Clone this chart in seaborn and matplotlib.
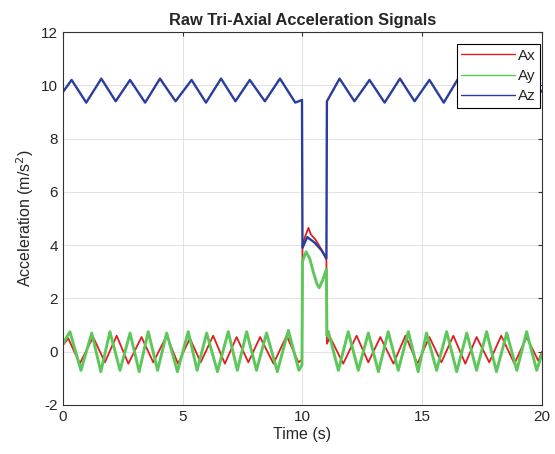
import numpy as np
import pandas as pd
import matplotlib
matplotlib.use("Agg")
import matplotlib.pyplot as plt
import seaborn as sns

# values (peaks / troughs / step points)
AX_T = [0, 0.22, 0.7, 1.26, 1.75, 2.24, 2.73, 3.28, 3.77, 4.33,
        4.8, 5.3, 5.75, 6.27, 6.76, 7.25, 7.74, 8.23, 8.79, 9.34,
        9.83, 9.98, 10.0, 10.1, 10.25, 10.35, 10.55, 10.75, 10.9, 11.0,
        11.02, 11.15, 11.7, 12.26, 12.75, 13.25, 13.8, 14.3, 14.8, 15.3,
        15.8, 16.3, 16.8, 17.27, 17.8, 18.3, 18.85, 19.36, 19.85, 20.0]
AX_V = [0.25, 0.5, -0.45, 0.55, -0.4, 0.6, -0.45, 0.55, -0.4, 0.6,
        -0.45, 0.5, -0.4, 0.6, -0.45, 0.55, -0.4, 0.55, -0.45, 0.6,
        -0.4, -0.3, 4.0, 4.3, 4.65, 4.4, 4.2, 3.9, 3.65, 3.45,
        0.3, 0.55, -0.45, 0.6, -0.4, 0.55, -0.45, 0.6, -0.45, 0.55,
        -0.4, 0.6, -0.45, 0.55, -0.4, 0.6, -0.45, 0.55, -0.35, 0.0]

AY_T = [0, 0.29, 0.75, 1.2, 1.58, 1.96, 2.38, 2.8, 3.18, 3.56,
        3.95, 4.33, 4.78, 5.23, 5.6, 6.0, 6.45, 6.9, 7.28, 7.67,
        8.08, 8.5, 8.95, 9.41, 9.85, 9.98, 10.0, 10.15, 10.3, 10.45,
        10.6, 10.7, 10.85, 11.0, 11.02, 11.08, 11.5, 11.91, 12.33, 12.75,
        13.17, 13.58, 14.0, 14.42, 14.83, 15.18, 15.6, 16.02, 16.44, 16.86,
        17.27, 17.69, 18.1, 18.53, 18.95, 19.36, 19.78, 20.0]
AY_V = [0.3, 0.75, -0.7, 0.7, -0.75, 0.75, -0.7, 0.7, -0.75, 0.75,
        -0.7, 0.7, -0.75, 0.75, -0.7, 0.7, -0.75, 0.75, -0.7, 0.75,
        -0.7, 0.7, -0.75, 0.8, -0.7, -0.5, 3.4, 3.75, 3.5, 3.0,
        2.55, 2.4, 2.7, 3.1, 0.6, 0.75, -0.7, 0.75, -0.7, 0.7,
        -0.75, 0.75, -0.7, 0.75, -0.75, 0.7, -0.7, 0.75, -0.75, 0.7,
        -0.7, 0.75, -0.75, 0.7, -0.7, 0.75, -0.7, -0.1]

AZ_T = [0, 0.36, 0.97, 1.6, 2.2, 2.8, 3.43, 4.05, 4.7, 5.37,
        5.97, 6.6, 7.2, 7.8, 8.43, 9.06, 9.7, 9.98, 10.0, 10.2,
        10.5, 10.8, 11.0, 11.02, 11.55, 12.17, 12.8, 13.43, 14.07, 14.68,
        15.3, 15.9, 16.5, 17.13, 17.75, 18.38, 19.0, 19.6, 20.0]
AZ_V = [9.75, 10.2, 9.35, 10.25, 9.4, 10.2, 9.35, 10.25, 9.4, 10.2,
        9.35, 10.25, 9.4, 10.2, 9.4, 10.25, 9.35, 9.45, 3.9, 4.3,
        4.1, 3.8, 3.5, 9.4, 10.25, 9.4, 10.2, 9.35, 10.25, 9.4,
        10.2, 9.35, 10.25, 9.4, 10.2, 9.4, 10.3, 9.45, 9.8]

SERIES = [("Ax", AX_T, AX_V, "#dc1f23", 1.3),
          ("Ay", AY_T, AY_V, "#5cc85a", 2.1),
          ("Az", AZ_T, AZ_V, "#2a3d9c", 1.7)]

sns.set_style("white")
plt.rcParams['font.family'] = ['Liberation Sans', 'DejaVu Sans']
plt.rcParams['axes.unicode_minus'] = False

fig = plt.figure(figsize=(5.55, 4.54), dpi=100)
ax = fig.add_axes([0.1135, 0.108, 0.863, 0.8215])

for name, t, v, col, lw in SERIES:
    df = pd.DataFrame({'t': t, 'v': v})
    sns.lineplot(data=df, x='t', y='v', color=col, lw=lw, label=name,
                 estimator=None, sort=False, ax=ax,
                 solid_joinstyle='round')

ax.set_xlim(0, 20)
ax.set_ylim(-2, 12)
ax.set_xticks([0, 5, 10, 15, 20])
ax.set_yticks(np.arange(-2, 13, 2))
ax.grid(True, color='#e3e3e3', lw=0.7)
ax.set_axisbelow(True)
for s in ax.spines.values():
    s.set_color('#333333'); s.set_linewidth(0.8)
ax.tick_params(direction='in', length=3, top=True, right=True,
               labelsize=11, colors='#333333', labelcolor='#262626')
ax.set_title('Raw Tri-Axial Acceleration Signals', fontsize=11.8,
             fontweight='bold', pad=5)
ax.set_xlabel('Time (s)', fontsize=11.5, labelpad=2)
ax.set_ylabel('Acceleration (m/s$^2$)', fontsize=11.5)

leg = ax.legend(loc='upper right', bbox_to_anchor=(0.996, 0.968),
                fontsize=11, frameon=True, fancybox=False, framealpha=1,
                edgecolor='black', handlelength=3.5, labelspacing=0.42,
                borderpad=0.3, handletextpad=0.2, borderaxespad=0)
leg.get_frame().set_linewidth(0.8)
for h in leg.get_lines():
    h.set_linewidth(1.0)

plt.savefig('out.png', dpi=100)
plt.close()
